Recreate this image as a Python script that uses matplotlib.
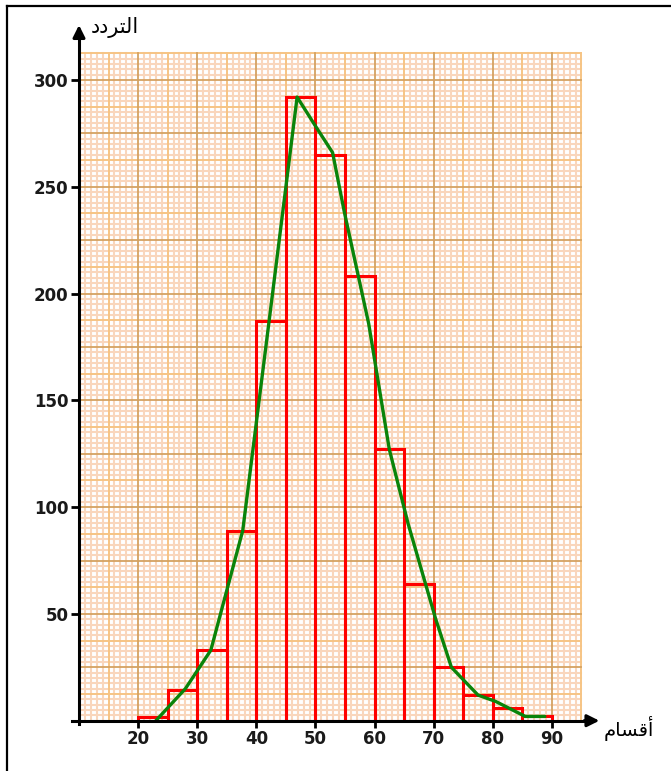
import matplotlib
matplotlib.use('Agg')
import matplotlib.pyplot as plt
import numpy as np
from matplotlib.lines import Line2D

# class left edges and frequencies (width 5)
class_starts = [20, 25, 30, 35, 40, 45, 50, 55, 60, 65, 70, 75, 80, 85]
class_width = 5
freqs = [1.5, 14.5, 33, 89, 187, 292, 265, 208, 127, 64, 25, 12, 6, 2]

# green frequency curve
curve_x = [23, 28, 32.3, 37.7, 42.2, 46.9, 50.1, 52.9, 54.9, 59, 62.5, 65.7, 70.3, 73, 77.5, 80.5, 85.5, 88.8]
curve_y = [0, 15, 33, 89, 188, 292, 278, 266, 238, 186, 127, 92, 48, 25, 12, 9, 2, 2]

x_ticks = [20, 30, 40, 50, 60, 70, 80, 90]
y_ticks = [50, 100, 150, 200, 250, 300]

# Arabic labels, shaped by hand (presentation forms, visual order)
y_label = '\uFEA9\uFEA9\uFEAE\uFE98\uFEDF\uFE8D'   # التردد
x_label = '\uFEE1\uFE8E\uFEB4\uFED7\uFE83'         # أقسام

fig = plt.figure(figsize=(6.71, 7.71), dpi=100)
ax = fig.add_axes([79 / 671, 50.3 / 771, 532 / 671, 704.8 / 771])
ax.set_xlim(10, 100)
ax.set_ylim(0, 330)
for s in ax.spines.values():
    s.set_visible(False)

# graph paper
gx0, gx1, gy0, gy1 = 10, 95, 0, 312.5
dark, mid, light = '#d4a262', '#f6c484', '#f9d6bc'
for x in np.arange(gx0, gx1 + 0.01, 1):
    if x % 10 == 0:
        c, lw, z = dark, 1.3, 0.3
    elif x % 5 == 0:
        c, lw, z = mid, 1.4, 0.2
    else:
        c, lw, z = light, 1.5, 0.1
    ax.plot([x, x], [gy0, gy1], color=c, lw=lw, zorder=z)
for y in np.arange(gy0, gy1 + 0.01, 2.5):
    if y % 25 == 0:
        c, lw, z = dark, 1.3, 0.3
    elif y % 12.5 == 0:
        c, lw, z = mid, 1.4, 0.2
    else:
        c, lw, z = light, 1.5, 0.1
    ax.plot([gx0, gx1], [y, y], color=c, lw=lw, zorder=z)

# histogram bars
ax.bar(class_starts, freqs, width=class_width, align='edge', facecolor='none',
       edgecolor='#ff0000', linewidth=2.2, zorder=3)

# frequency curve
ax.plot(curve_x, curve_y, color='#0a840a', lw=2.4, zorder=4, solid_capstyle='round')

# axes with arrows
ax.plot([8.8, 96], [0, 0], color='black', lw=2.2, zorder=5, clip_on=False)
ax.annotate('', xy=(98.5, 0), xytext=(95, 0),
            arrowprops=dict(arrowstyle='-|>', color='black', lw=2.2, mutation_scale=18),
            annotation_clip=False, zorder=6)
ax.plot([10, 10], [-1.5, 322], color='black', lw=2.2, zorder=5, clip_on=False)
ax.annotate('', xy=(10, 327), xytext=(10, 318),
            arrowprops=dict(arrowstyle='-|>', color='black', lw=2.2, mutation_scale=18),
            annotation_clip=False, zorder=6)

# ticks
ax.set_xticks(x_ticks)
ax.set_yticks(y_ticks)
ax.tick_params(axis='x', direction='out', length=5, width=2, pad=1.5)
ax.tick_params(axis='y', direction='out', length=5.5, width=2, pad=2)
for lab in ax.get_xticklabels() + ax.get_yticklabels():
    lab.set_fontfamily('DejaVu Sans')
    lab.set_fontweight('bold')
    lab.set_fontsize(12)
    lab.set_color('#1a1a1a')

ax.text(12.0, 324.5, y_label, family='DejaVu Sans', fontsize=15, ha='left', va='center')
ax.text(98.8, -3.5, x_label, family='DejaVu Sans', fontsize=14, ha='left', va='center',
        clip_on=False)

# frame around the picture (only top and left show)
fig.add_artist(Line2D([7 / 671, 7 / 671], [0, 765 / 771], color='black', lw=1.6))
fig.add_artist(Line2D([7 / 671, 1], [765 / 771, 765 / 771], color='black', lw=1.6))

fig.savefig('out.png', dpi=100)
